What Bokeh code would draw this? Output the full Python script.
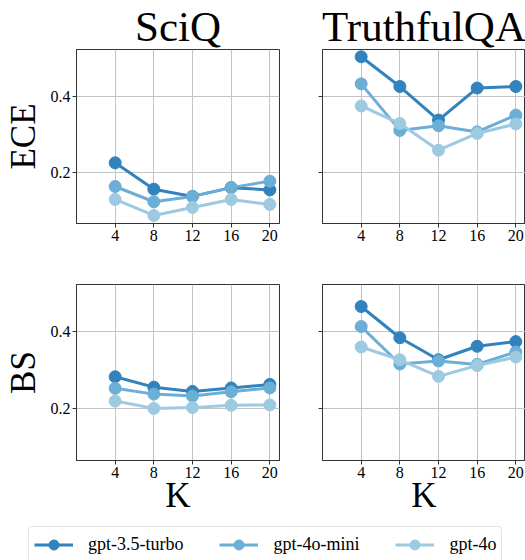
from bokeh.embed import file_html
from bokeh.layouts import column, row
from bokeh.models import CustomJSTickFormatter, FixedTicker, Legend, LegendItem, Range1d
from bokeh.plotting import figure
from bokeh.resources import INLINE

# Number of in-context examples
ks = [4, 8, 12, 16, 20]

model_names = ["gpt-3.5-turbo", "gpt-4o-mini", "gpt-4o"]
model_colors = ["#3182bd", "#6baed6", "#9ecae1"]

# Expected calibration error
ece_sciq_gpt35 = [0.225, 0.156, 0.137, 0.160, 0.154]
ece_sciq_mini = [0.163, 0.123, 0.137, 0.160, 0.177]
ece_sciq_4o = [0.129, 0.087, 0.108, 0.129, 0.116]

ece_tqa_gpt35 = [0.503, 0.425, 0.337, 0.421, 0.425]
ece_tqa_mini = [0.432, 0.310, 0.322, 0.306, 0.350]
ece_tqa_4o = [0.374, 0.328, 0.258, 0.302, 0.327]

# Brier score
bs_sciq_gpt35 = [0.283, 0.256, 0.245, 0.254, 0.263]
bs_sciq_mini = [0.253, 0.238, 0.233, 0.244, 0.254]
bs_sciq_4o = [0.220, 0.201, 0.203, 0.209, 0.210]

bs_tqa_gpt35 = [0.465, 0.384, 0.327, 0.362, 0.374]
bs_tqa_mini = [0.413, 0.316, 0.324, 0.315, 0.347]
bs_tqa_4o = [0.360, 0.327, 0.284, 0.312, 0.334]

y_ticks = [0.2, 0.4]

SERIF = "Liberation Serif"
FRAME = "#333333"


def make_panel(series, left_col, top_row, title=None, ylabel=None, xlabel=None):
    if left_col:
        width, b_left, b_right = 300, 76, 21
    else:
        width, b_left, b_right = 225, 22, 0
    if top_row:
        height, b_top, b_bottom = 260, 47, 37
    else:
        height, b_top, b_bottom = 260, 24, 60

    p = figure(
        width=width, height=height,
        x_range=Range1d(0, 21), y_range=Range1d(0.066, 0.522),
        output_backend="svg", toolbar_location=None, tools="",
        min_border_left=b_left, min_border_right=b_right,
        min_border_top=b_top, min_border_bottom=b_bottom,
        background_fill_color="white", border_fill_color="white",
    )
    p.outline_line_color = FRAME
    p.outline_line_width = 1

    p.xaxis.ticker = FixedTicker(ticks=ks)
    p.yaxis.ticker = FixedTicker(ticks=y_ticks)
    p.axis.axis_line_color = FRAME
    p.axis.major_tick_line_color = FRAME
    p.axis.major_tick_out = 4
    p.axis.major_tick_in = 0
    p.axis.minor_tick_out = 0
    p.axis.minor_tick_in = 0
    p.axis.major_label_text_font = SERIF
    p.axis.major_label_text_font_size = "16px"
    p.axis.major_label_text_color = "black"
    p.axis.major_label_standoff = 2
    if not left_col:
        p.yaxis.formatter = CustomJSTickFormatter(code="return ''")

    p.grid.grid_line_color = "#c4c4c4"
    p.grid.grid_line_width = 1

    for vals, color in zip(series, model_colors):
        p.line(ks, vals, line_width=3, color=color)
        p.scatter(ks, vals, size=12, color=color)

    if title:
        p.title.text = title
        p.title.align = "center"
        p.title.text_font = SERIF
        p.title.text_font_size = "43px"
        p.title.text_font_style = "normal"
        p.title.text_color = "black"
        p.title.standoff = 0
    if ylabel:
        p.yaxis.axis_label = ylabel
        p.yaxis.axis_label_text_font = SERIF
        p.yaxis.axis_label_text_font_size = "35px"
        p.yaxis.axis_label_text_font_style = "normal"
        p.yaxis.axis_label_text_color = "black"
        p.yaxis.axis_label_standoff = 5
    if xlabel:
        p.xaxis.axis_label = xlabel
        p.xaxis.axis_label_text_font = SERIF
        p.xaxis.axis_label_text_font_size = "35px"
        p.xaxis.axis_label_text_font_style = "normal"
        p.xaxis.axis_label_text_color = "black"
        p.xaxis.axis_label_standoff = -5
    return p


p_ece_sciq = make_panel([ece_sciq_gpt35, ece_sciq_mini, ece_sciq_4o], True, True,
                        title="SciQ", ylabel="ECE")
p_ece_tqa = make_panel([ece_tqa_gpt35, ece_tqa_mini, ece_tqa_4o], False, True,
                       title="TruthfulQA")
p_bs_sciq = make_panel([bs_sciq_gpt35, bs_sciq_mini, bs_sciq_4o], True, False,
                       ylabel="BS", xlabel="K")
p_bs_tqa = make_panel([bs_tqa_gpt35, bs_tqa_mini, bs_tqa_4o], False, False,
                      xlabel="K")

# Shared legend strip along the bottom
lf = figure(
    width=525, height=40,
    x_range=Range1d(100, 101), y_range=Range1d(100, 101),
    x_axis_type=None, y_axis_type=None,
    output_backend="svg", toolbar_location=None, tools="",
    min_border=0, outline_line_color=None,
)
items = []
for name, vals, color in zip(model_names, [bs_sciq_gpt35, bs_sciq_mini, bs_sciq_4o], model_colors):
    lr = lf.line(ks, vals, line_width=3, color=color)
    sr = lf.scatter(ks, vals, size=12, color=color)
    items.append(LegendItem(label=name, renderers=[lr, sr]))

legend = Legend(
    items=items, orientation="horizontal", location=(28, -3),
    padding=5, spacing=36, margin=0,
    glyph_width=39, glyph_height=25, label_standoff=15,
    label_text_font=SERIF, label_text_font_size="18px", label_text_color="black",
    border_line_color="#cccccc", border_line_width=1, border_radius=4,
    background_fill_color="white", background_fill_alpha=1,
)
lf.add_layout(legend)

layout = column(
    row(p_ece_sciq, p_ece_tqa, spacing=0),
    row(p_bs_sciq, p_bs_tqa, spacing=0),
    lf,
    spacing=0,
)

open("out.html", "w").write(file_html(layout, INLINE))
